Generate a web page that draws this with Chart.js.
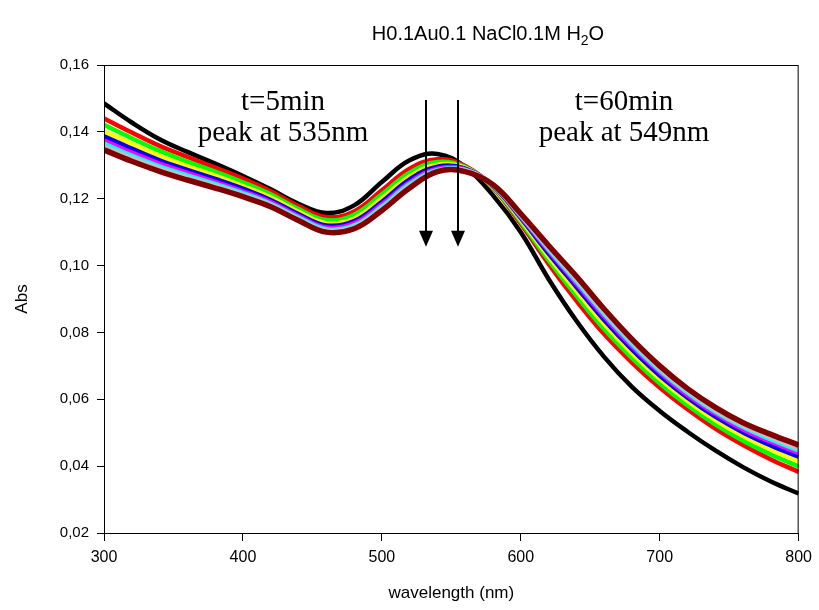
<!DOCTYPE html>
<html>
<head>
<meta charset="utf-8">
<script src="https://cdn.jsdelivr.net/npm/chart.js@4.4.1/dist/chart.umd.min.js"></script>
<style>
  html, body { margin: 0; padding: 0; background: #fff; }
</style>
</head>
<body>
<canvas id="grafico" width="819" height="610"></canvas>
<script>
// wavelength grid (nm) the spectra were read at
const wavelengths = [300, 320, 340, 360, 380, 400, 420, 440, 460, 480, 500, 520, 540,
                     560, 580, 600, 620, 640, 660, 680, 700, 720, 740, 760, 780, 800];

// absorbance, one list per spectrum (t=5min first, t=60min last)
const absBlack   = [0.1485, 0.1428, 0.1378, 0.1340, 0.1305, 0.1268, 0.1228, 0.1185, 0.1157, 0.1180, 0.1250, 0.1315, 0.1334,
                    0.1295, 0.1210, 0.1100, 0.0960, 0.0835, 0.0727, 0.0637, 0.0565, 0.0503, 0.0447, 0.0397, 0.0354, 0.0318];
const absRed     = [0.1440, 0.1398, 0.1358, 0.1325, 0.1293, 0.1260, 0.1222, 0.1178, 0.1145, 0.1162, 0.1225, 0.1290, 0.1318,
                    0.1298, 0.1232, 0.1125, 0.1005, 0.0895, 0.0795, 0.0710, 0.0635, 0.0570, 0.0512, 0.0463, 0.0420, 0.0383];
const absGreen   = [0.1421, 0.1381, 0.1343, 0.1311, 0.1281, 0.1249, 0.1213, 0.1169, 0.1136, 0.1152, 0.1213, 0.1278, 0.1310,
                    0.1295, 0.1234, 0.1131, 0.1016, 0.0910, 0.0810, 0.0724, 0.0648, 0.0582, 0.0525, 0.0476, 0.0435, 0.0399];
const absYellow  = [0.1402, 0.1364, 0.1328, 0.1297, 0.1269, 0.1238, 0.1204, 0.1161, 0.1127, 0.1141, 0.1201, 0.1267, 0.1302,
                    0.1292, 0.1236, 0.1137, 0.1027, 0.0924, 0.0825, 0.0738, 0.0661, 0.0595, 0.0538, 0.0490, 0.0450, 0.0415];
const absBlue    = [0.1387, 0.1350, 0.1315, 0.1286, 0.1259, 0.1230, 0.1196, 0.1154, 0.1120, 0.1133, 0.1191, 0.1258, 0.1296,
                    0.1290, 0.1238, 0.1142, 0.1036, 0.0936, 0.0837, 0.0749, 0.0671, 0.0605, 0.0548, 0.0501, 0.0462, 0.0428];
const absMagenta = [0.1374, 0.1338, 0.1305, 0.1277, 0.1250, 0.1222, 0.1190, 0.1148, 0.1114, 0.1126, 0.1183, 0.1249, 0.1290,
                    0.1288, 0.1239, 0.1146, 0.1044, 0.0946, 0.0848, 0.0759, 0.0681, 0.0613, 0.0557, 0.0510, 0.0473, 0.0439];
const absCyan    = [0.1365, 0.1329, 0.1297, 0.1270, 0.1244, 0.1217, 0.1185, 0.1144, 0.1109, 0.1120, 0.1177, 0.1244, 0.1286,
                    0.1286, 0.1240, 0.1149, 0.1049, 0.0953, 0.0855, 0.0766, 0.0687, 0.0620, 0.0563, 0.0517, 0.0480, 0.0447];
const absGray    = [0.1357, 0.1322, 0.1291, 0.1264, 0.1239, 0.1212, 0.1182, 0.1140, 0.1105, 0.1116, 0.1172, 0.1239, 0.1283,
                    0.1285, 0.1241, 0.1151, 0.1053, 0.0959, 0.0861, 0.0772, 0.0692, 0.0625, 0.0568, 0.0522, 0.0486, 0.0453];
const absMaroon  = [0.1346, 0.1312, 0.1282, 0.1256, 0.1232, 0.1206, 0.1176, 0.1135, 0.1100, 0.1110, 0.1165, 0.1232, 0.1281,
                    0.1281, 0.1242, 0.1155, 0.1060, 0.0968, 0.0870, 0.0780, 0.0700, 0.0632, 0.0576, 0.0530, 0.0495, 0.0463];

const seriesValues = [absBlack, absRed, absGreen, absYellow, absBlue, absMagenta, absCyan, absGray, absMaroon];
const seriesNames  = ['t=5min', 'curve 2', 'curve 3', 'curve 4', 'curve 5', 'curve 6', 'curve 7', 'curve 8', 't=60min'];
const seriesColors = ['#000000', '#ff0000', '#00ff00', '#ffff00', '#0000ff', '#ff00ff', '#00ffff', '#c0c0c0', '#800000'];

const xTicks = [300, 400, 500, 600, 700, 800];
const yTicks = [0.02, 0.04, 0.06, 0.08, 0.10, 0.12, 0.14, 0.16];

// arrows (nm) and the notes next to them
const arrowWavelengths = [532, 555];
const arrowFrom = 0.1495;
const arrowTo = 0.1056;
const notes = [
  { x: 283, lines: ['t=5min', 'peak at 535nm'] },
  { x: 624, lines: ['t=60min', 'peak at 549nm'] }
];

const extras = {
  id: 'extras',
  afterDatasetsDraw(chart) {
    const { ctx, chartArea: a, scales } = chart;
    ctx.save();
    ctx.strokeStyle = '#000';
    ctx.lineWidth = 1;
    ctx.strokeRect(a.left + 0.5, a.top + 0.5, a.right - a.left - 1, a.bottom - a.top);

    ctx.fillStyle = '#000';
    ctx.lineWidth = 2;
    arrowWavelengths.forEach(w => {
      const px = Math.round(scales.x.getPixelForValue(w));
      const top = scales.y.getPixelForValue(arrowFrom);
      const tip = scales.y.getPixelForValue(arrowTo);
      ctx.beginPath();
      ctx.moveTo(px, top);
      ctx.lineTo(px, tip - 12);
      ctx.stroke();
      ctx.beginPath();
      ctx.moveTo(px - 7, tip - 16);
      ctx.lineTo(px + 7, tip - 16);
      ctx.lineTo(px, tip);
      ctx.closePath();
      ctx.fill();
    });

    ctx.font = '29px "Liberation Serif", "Times New Roman", serif';
    ctx.textAlign = 'center';
    ctx.textBaseline = 'alphabetic';
    notes.forEach(n => {
      ctx.fillText(n.lines[0], n.x, 110);
      ctx.fillText(n.lines[1], n.x, 141);
    });
    ctx.restore();
  },
  afterDraw(chart) {
    const { ctx } = chart;
    ctx.save();
    ctx.fillStyle = '#000';
    ctx.textBaseline = 'alphabetic';
    ctx.textAlign = 'left';
    const big = '20px "Liberation Sans", Arial, sans-serif';
    const small = '14px "Liberation Sans", Arial, sans-serif';
    const part1 = 'H0.1Au0.1 NaCl0.1M H', part2 = '2', part3 = 'O';
    ctx.font = big;
    const w1 = ctx.measureText(part1).width, w3 = ctx.measureText(part3).width;
    ctx.font = small;
    const w2 = ctx.measureText(part2).width;
    let x0 = 488 - (w1 + w2 + w3) / 2;
    ctx.font = big;
    ctx.fillText(part1, x0, 40);
    ctx.font = small;
    ctx.fillText(part2, x0 + w1, 45);
    ctx.font = big;
    ctx.fillText(part3, x0 + w1 + w2, 40);
    ctx.restore();
  }
};

const axisFont = { family: '"Liberation Sans", Arial, sans-serif', size: 15 };

new Chart(document.getElementById('grafico').getContext('2d'), {
  type: 'line',
  data: {
    datasets: seriesValues.map((vals, i) => ({
      label: seriesNames[i],
      data: wavelengths.map((w, j) => ({ x: w, y: vals[j] })),
      borderColor: seriesColors[i],
      backgroundColor: seriesColors[i],
      borderWidth: i === seriesValues.length - 1 ? 5.5 : 4.5,
      pointRadius: 0,
      tension: 0.4,
      fill: false,
      order: seriesValues.length - 1 - i
    }))
  },
  options: {
    responsive: false,
    animation: false,
    layout: { padding: { top: 65, right: 17, left: 0, bottom: 0 } },
    plugins: {
      legend: { display: false },
      tooltip: { enabled: false },
      title: { display: false }
    },
    scales: {
      x: {
        type: 'linear',
        min: 300,
        max: 800,
        afterBuildTicks: s => { s.ticks = xTicks.map(v => ({ value: v })); },
        afterFit: s => { s.height = 77; },
        grid: { drawOnChartArea: false, tickLength: 8, color: '#000' },
        border: { color: '#000', width: 1 },
        ticks: { color: '#000', font: { ...axisFont, size: 16 }, padding: 7, maxRotation: 0 },
        title: {
          display: true,
          text: 'wavelength (nm)',
          color: '#000',
          font: { ...axisFont, size: 17 },
          padding: { top: 0, bottom: 6 }
        }
      },
      y: {
        min: 0.02,
        max: 0.16,
        afterBuildTicks: s => { s.ticks = yTicks.map(v => ({ value: v })); },
        afterFit: s => { s.width = 104; },
        grid: { drawOnChartArea: false, tickLength: 7, color: '#000' },
        border: { color: '#000', width: 1 },
        ticks: {
          color: '#000',
          font: axisFont,
          padding: 8,
          callback: v => v.toFixed(2).replace('.', ',')
        },
        title: {
          display: true,
          text: 'Abs',
          color: '#000',
          font: { ...axisFont, size: 17 },
          padding: { top: 12, bottom: 0 }
        }
      }
    }
  },
  plugins: [extras]
});
</script>
</body>
</html>
